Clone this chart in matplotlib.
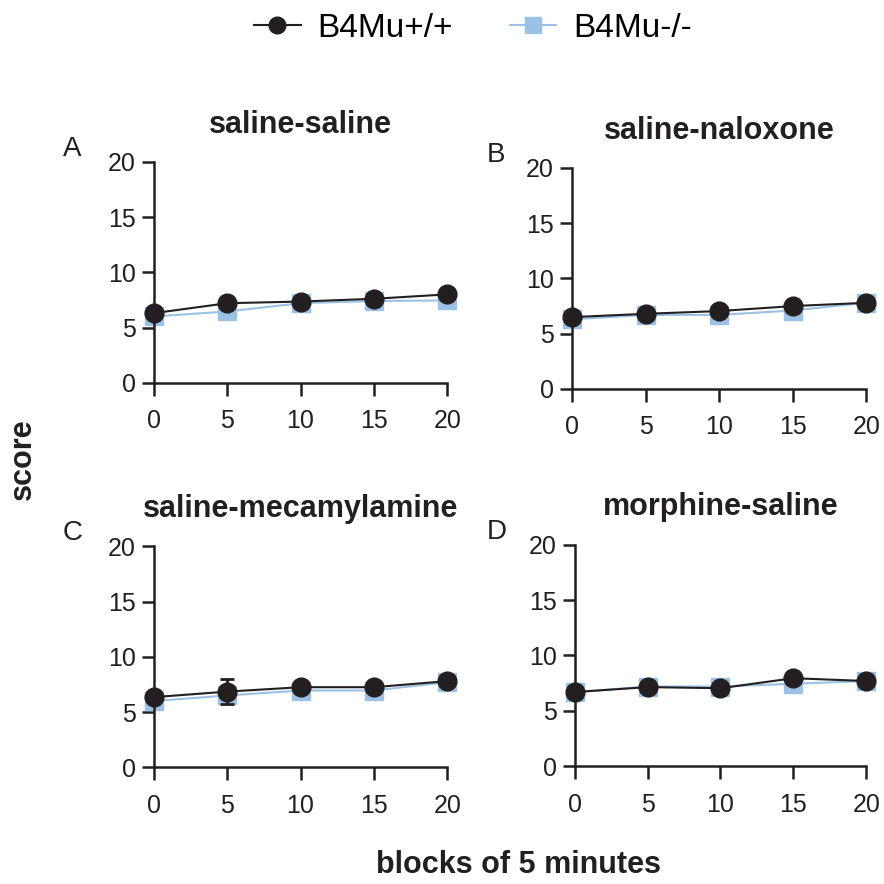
import matplotlib.pyplot as plt
from matplotlib.lines import Line2D

plt.rcParams['font.family'] = ['Liberation Sans', 'DejaVu Sans']

# данные
blocks = [0, 5, 10, 15, 20]
titles = ['saline-saline', 'saline-naloxone', 'saline-mecamylamine', 'morphine-saline']
letters = ['A', 'B', 'C', 'D']

wt_A = [6.3, 7.2, 7.35, 7.6, 8.0]
ko_A = [6.0, 6.45, 7.2, 7.4, 7.45]
wt_B = [6.5, 6.8, 7.05, 7.5, 7.8]
ko_B = [6.3, 6.7, 6.7, 7.1, 7.8]
wt_C = [6.35, 6.85, 7.25, 7.25, 7.8]
ko_C = [6.0, 6.5, 6.95, 6.95, 7.7]
wt_D = [6.7, 7.15, 7.05, 7.95, 7.7]
ko_D = [6.7, 7.2, 7.2, 7.45, 7.7]

# погрешность видна только на панели C, точка 5
err_C = [0, 1.1, 0, 0, 0]

wt_all = [wt_A, wt_B, wt_C, wt_D]
ko_all = [ko_A, ko_B, ko_C, ko_D]
err_all = [None, None, err_C, None]

blue = '#9bc2e6'
dark = '#231f20'

fig = plt.figure(figsize=(8.84, 8.84), dpi=100)
rects = [
    [0.174, 0.567, 0.332, 0.250],
    [0.647, 0.560, 0.333, 0.250],
    [0.174, 0.132, 0.332, 0.250],
    [0.650, 0.133, 0.330, 0.251],
]
letter_x = [-0.31, -0.29, -0.31, -0.30]

for i in range(4):
    ax = fig.add_axes(rects[i])
    ax.plot(blocks, ko_all[i], color=blue, lw=1.5, marker='s', ms=12.5, mec=blue, mfc=blue,
            zorder=2, clip_on=False)
    if err_all[i] is not None:
        ax.errorbar(blocks, wt_all[i], yerr=err_all[i], color=dark, lw=1.5, marker='o', ms=13.5,
                    capsize=5, capthick=2, elinewidth=2, zorder=3, clip_on=False)
    else:
        ax.plot(blocks, wt_all[i], color=dark, lw=1.5, marker='o', ms=13.5, zorder=3, clip_on=False)
    ax.set_xlim(0, 20)
    ax.set_ylim(0, 20)
    ax.set_xticks(blocks)
    ax.set_yticks([0, 5, 10, 15, 20])
    ax.spines['top'].set_visible(False)
    ax.spines['right'].set_visible(False)
    for s in ['left', 'bottom']:
        ax.spines[s].set_linewidth(1.8)
        ax.spines[s].set_color(dark)
    ax.tick_params(axis='both', direction='out', length=9, width=1.8, color=dark,
                   labelsize=18, labelcolor=dark)
    ax.tick_params(axis='x', pad=10)
    ax.tick_params(axis='y', pad=4)
    ax.set_title(titles[i], fontsize=22, fontweight='bold', color=dark, pad=21)
    ax.text(letter_x[i], 1.0, letters[i], transform=ax.transAxes, fontsize=20, color=dark,
            ha='left', va='bottom')

fig.text(0.026, 0.48, 'score', rotation=90, fontsize=22, fontweight='bold', color=dark,
         ha='center', va='center')
fig.text(0.587, 0.021, 'blocks of 5 minutes', fontsize=22, fontweight='bold', color=dark,
         ha='center', va='center')

handles = [
    Line2D([], [], color=dark, lw=1.5, marker='o', ms=12),
    Line2D([], [], color=blue, lw=1.5, marker='s', ms=12),
]
fig.legend(handles, ['B4Mu+/+', 'B4Mu-/-'], loc='center', bbox_to_anchor=(0.535, 0.968),
           ncol=2, frameon=False, fontsize=24, handlelength=1.4, columnspacing=1.7,
           handletextpad=0.5)

fig.savefig('out.png', dpi=100)
